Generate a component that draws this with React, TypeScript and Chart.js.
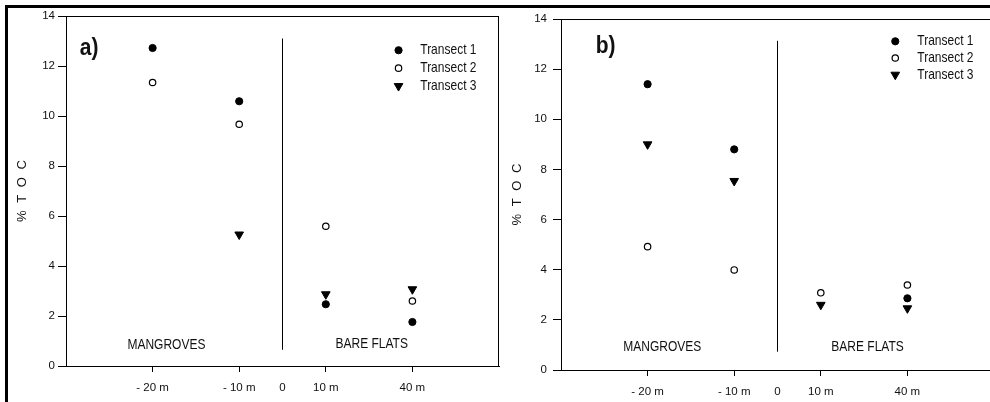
import { useEffect, useRef } from 'react';
import { Chart, registerables } from 'chart.js';
import { drawPoint } from 'chart.js/helpers';

Chart.register(...registerables);

const FONT = "'Liberation Sans', Arial, Helvetica, sans-serif";
const INK = '#111';

// Sampling stations along each transect and where they sit on the x axis
const distances = ['- 20 m', '- 10 m', '10 m', '40 m'];
const distancePositions = [1, 2, 3, 4];
const dividerPosition = 2.5;
const xTickPositions = [1, 2, 2.5, 3, 4];
const xTickLabels = ['- 20 m', '- 10 m', '0', '10 m', '40 m'];
const yTickMin = 0;
const yTickMax = 14;
const yTickStep = 2;

const seriesNames = ['Transect 1', 'Transect 2', 'Transect 3'];
const zoneNames = ['MANGROVES', 'BARE FLATS'];

// % TOC, panel a)
const tocA_T1 = [12.72, 10.59, 2.47, 1.76];
const tocA_T2 = [11.34, 9.67, 5.59, 2.6];
const tocA_T3 = [null, 5.26, 2.87, 3.07];
const dividerA = [0.65, 13.1];

// % TOC, panel b)
const tocB_T1 = [11.4, 8.8, null, 2.86];
const tocB_T2 = [4.92, 3.99, 3.08, 3.39];
const tocB_T3 = [9.0, 7.54, 2.6, 2.46];
const dividerB = [0.73, 13.13];

const seriesStyles = [
  { pointStyle: 'circle', radius: 3.6, rotation: 0, fill: '#000', borderWidth: 1 },
  { pointStyle: 'circle', radius: 3.2, rotation: 0, fill: '#fff', borderWidth: 1.2 },
  { pointStyle: 'triangle', radius: 5, rotation: 180, fill: '#000', borderWidth: 1 },
];

type Spot = { x: number; y: number };
type PanelSpec = {
  tag: string;
  series: (number | null)[][];
  divider: number[];
  canvasLeft: number;
  canvasWidth: number;
  padTop: number;
  padRight: number;
  yAxisWidth: number;
  xAxisHeight: number;
  yTickPad: number;
  xTickPad: number;
  closedFrame: boolean;
  tagAt: Spot;
  zonesAt: Spot[];
  legendAt: Spot;
  rowGap: number;
  textGap: number;
  titleOffset: number;
};

const panels: PanelSpec[] = [
  {
    tag: 'a)',
    series: [tocA_T1, tocA_T2, tocA_T3],
    divider: dividerA,
    canvasLeft: 0,
    canvasWidth: 505,
    padTop: 16,
    padRight: 5,
    yAxisWidth: 66,
    xAxisHeight: 36,
    yTickPad: 3,
    xTickPad: 9,
    closedFrame: true,
    tagAt: { x: 0.16, y: 12.7 },
    zonesAt: [{ x: 1.16, y: 0.83 }, { x: 3.53, y: 0.87 }],
    legendAt: { x: 3.84, y: 12.63 },
    rowGap: 17.9,
    textGap: 21.7,
    titleOffset: 43.3,
  },
  {
    tag: 'b)',
    series: [tocB_T1, tocB_T2, tocB_T3],
    divider: dividerB,
    canvasLeft: 505,
    canvasWidth: 495,
    padTop: 19,
    padRight: 3,
    yAxisWidth: 56,
    xAxisHeight: 32,
    yTickPad: 6,
    xTickPad: 9,
    closedFrame: false,
    tagAt: { x: 0.4, y: 12.92 },
    zonesAt: [{ x: 1.17, y: 0.92 }, { x: 3.54, y: 0.92 }],
    legendAt: { x: 3.86, y: 13.11 },
    rowGap: 16.7,
    textGap: 22,
    titleOffset: 43.3,
  },
];

// Text drawn slightly taller than its width, like the original print
function tallText(ctx: CanvasRenderingContext2D, text: string, x: number, y: number, stretch: number) {
  ctx.save();
  ctx.translate(x, y);
  ctx.scale(1, stretch);
  ctx.fillText(text, 0, 0);
  ctx.restore();
}

// Frame, panel tag, zone names, legend and axis title
const decorPlugin = {
  id: 'decor',
  afterDraw(chart: any, _args: any, opts: any) {
    const spec: PanelSpec = opts.spec;
    const { ctx, chartArea } = chart;
    const xs = chart.scales.x;
    const ys = chart.scales.y;
    ctx.save();

    ctx.strokeStyle = '#000';
    ctx.lineWidth = 1;
    const top = Math.round(chartArea.top) + 0.5;
    const right = Math.round(chartArea.right) - 0.5;
    ctx.beginPath();
    ctx.moveTo(chartArea.left, top);
    ctx.lineTo(chartArea.right, top);
    if (spec.closedFrame) {
      ctx.moveTo(right, chartArea.top);
      ctx.lineTo(right, chartArea.bottom);
    }
    ctx.stroke();

    ctx.fillStyle = INK;
    ctx.textBaseline = 'middle';

    ctx.font = `bold 21px ${FONT}`;
    ctx.textAlign = 'left';
    tallText(ctx, spec.tag, xs.getPixelForValue(spec.tagAt.x), ys.getPixelForValue(spec.tagAt.y), 1.12);

    ctx.font = `12px ${FONT}`;
    ctx.textAlign = 'center';
    zoneNames.forEach((name, i) => {
      const at = spec.zonesAt[i];
      tallText(ctx, name, xs.getPixelForValue(at.x), ys.getPixelForValue(at.y), 1.2);
    });

    const lx = xs.getPixelForValue(spec.legendAt.x);
    const ly = ys.getPixelForValue(spec.legendAt.y);
    seriesNames.forEach((name, i) => {
      const st = seriesStyles[i];
      const py = ly + i * spec.rowGap;
      ctx.fillStyle = st.fill;
      ctx.strokeStyle = '#000';
      ctx.lineWidth = st.borderWidth;
      drawPoint(
        ctx,
        { pointStyle: st.pointStyle as any, radius: st.radius, rotation: st.rotation, borderWidth: st.borderWidth },
        lx,
        py
      );
      ctx.fillStyle = INK;
      ctx.textAlign = 'left';
      ctx.font = `12px ${FONT}`;
      tallText(ctx, name, lx + spec.textGap, py, 1.2);
    });

    ctx.translate(chartArea.left - spec.titleOffset, (chartArea.top + chartArea.bottom) / 2);
    ctx.rotate(-Math.PI / 2);
    ctx.textAlign = 'center';
    ctx.font = `13px ${FONT}`;
    (ctx as any).letterSpacing = '2px';
    ctx.fillText('% T O C', 1, 0);

    ctx.restore();
  },
};

function buildConfig(spec: PanelSpec): any {
  const datasets: any[] = seriesNames.map((name, s) => ({
    label: name,
    data: distancePositions.map((p, i) => ({ x: p, y: spec.series[s][i] })),
    pointStyle: seriesStyles[s].pointStyle,
    pointRadius: seriesStyles[s].radius,
    pointRotation: seriesStyles[s].rotation,
    pointBackgroundColor: seriesStyles[s].fill,
    pointBorderColor: '#000',
    pointBorderWidth: seriesStyles[s].borderWidth,
    pointHoverRadius: seriesStyles[s].radius,
    showLine: false,
  }));
  datasets.push({
    label: 'zone boundary',
    data: spec.divider.map((v) => ({ x: dividerPosition, y: v })),
    showLine: true,
    borderColor: '#000',
    borderWidth: 1,
    pointRadius: 0,
    pointHoverRadius: 0,
  });

  const tickFont = { size: 11.5, family: FONT };

  return {
    type: 'scatter',
    data: { datasets },
    plugins: [decorPlugin],
    options: {
      animation: false,
      responsive: false,
      events: [],
      layout: { padding: { top: spec.padTop, right: spec.padRight, left: 0, bottom: 0 } },
      plugins: {
        legend: { display: false },
        tooltip: { enabled: false },
        decor: { spec },
      },
      scales: {
        x: {
          type: 'linear',
          min: 0,
          max: 5,
          afterBuildTicks: (scale: any) => {
            scale.ticks = xTickPositions.map((v) => ({ value: v }));
          },
          afterFit: (scale: any) => {
            scale.height = spec.xAxisHeight;
          },
          ticks: {
            autoSkip: false,
            maxRotation: 0,
            minRotation: 0,
            padding: spec.xTickPad,
            color: INK,
            font: tickFont,
            callback: (_v: any, i: number) => xTickLabels[i],
          },
          grid: {
            drawOnChartArea: false,
            drawTicks: true,
            tickLength: 6,
            tickWidth: 1,
            tickColor: (c: any) =>
              c.tick && c.tick.value === dividerPosition ? 'rgba(0,0,0,0)' : '#000',
          },
          border: { display: true, color: '#000', width: 1 },
        },
        y: {
          type: 'linear',
          min: yTickMin,
          max: yTickMax,
          afterFit: (scale: any) => {
            scale.width = spec.yAxisWidth;
          },
          ticks: { stepSize: yTickStep, padding: spec.yTickPad, color: INK, font: tickFont },
          grid: { drawOnChartArea: false, drawTicks: true, tickLength: 8, tickWidth: 1, tickColor: '#000' },
          border: { display: true, color: '#000', width: 1 },
        },
      },
    },
  };
}

function Panel({ spec }: { spec: PanelSpec }) {
  const ref = useRef<HTMLCanvasElement>(null);
  useEffect(() => {
    if (!ref.current) return;
    const chart = new Chart(ref.current, buildConfig(spec));
    return () => chart.destroy();
  }, [spec]);
  return (
    <canvas
      ref={ref}
      width={spec.canvasWidth}
      height={402}
      aria-label={`% TOC by distance (${distances.join(', ')}), panel ${spec.tag}`}
      style={{ position: 'absolute', left: spec.canvasLeft, top: 0, width: spec.canvasWidth, height: 402 }}
    />
  );
}

export default function App() {
  return (
    <div
      style={{
        position: 'absolute',
        left: 0,
        top: 0,
        width: 990,
        height: 402,
        overflow: 'hidden',
        background: '#fff',
      }}
    >
      {panels.map((p) => (
        <Panel key={p.tag} spec={p} />
      ))}
      <div
        style={{
          position: 'absolute',
          left: 5,
          top: 5,
          right: -10,
          bottom: -10,
          borderTop: '3px solid #000',
          borderLeft: '3px solid #000',
          pointerEvents: 'none',
        }}
      />
    </div>
  );
}
